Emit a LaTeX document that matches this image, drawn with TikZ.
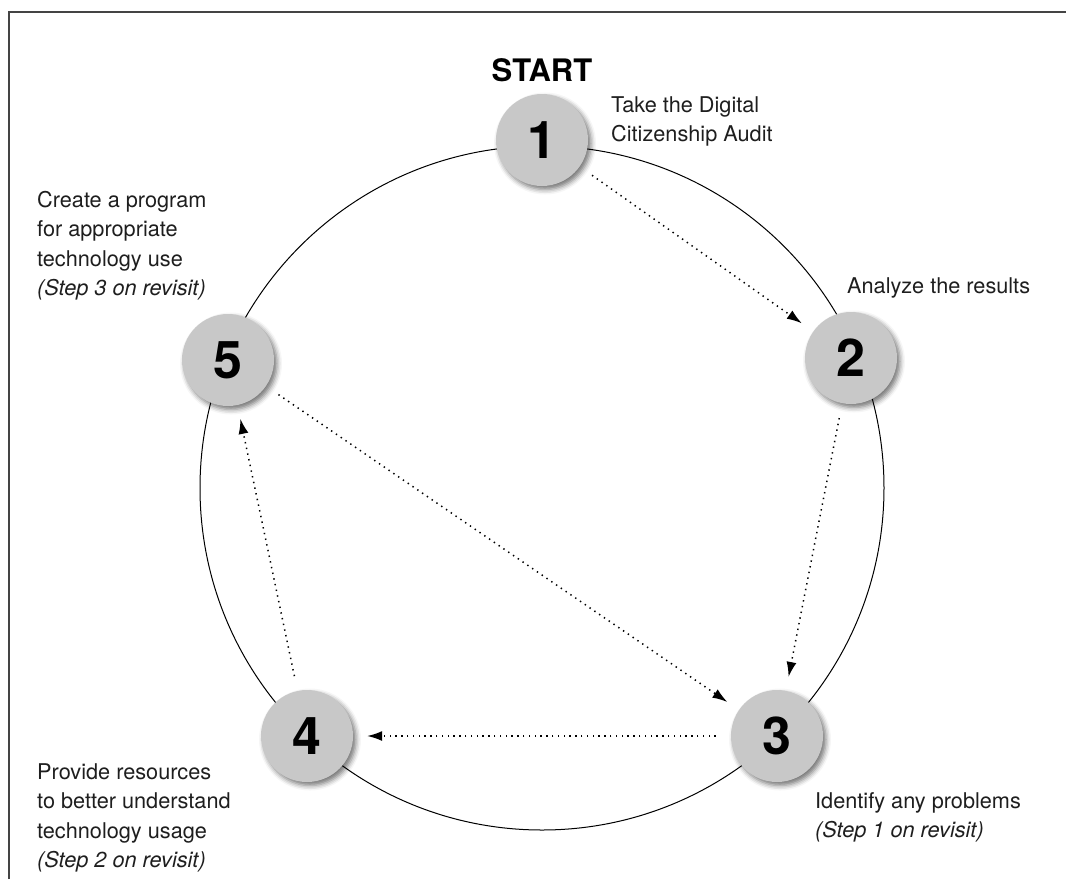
\documentclass[tikz,border=0pt]{standalone}
\usepackage{fontspec}
\setmainfont{TeX Gyre Heros}
\usetikzlibrary{arrows.meta,shadows.blur}
\definecolor{stepgray}{HTML}{C8C8C8}
\definecolor{textgray}{HTML}{1E1E1E}
\definecolor{framegray}{HTML}{444444}

\tikzset{
  stepnode/.style={circle, fill=stepgray, minimum size=92pt, inner sep=0pt,
    font=\fontsize{52}{52}\selectfont\bfseries,
    blur shadow={shadow xshift=3pt, shadow yshift=-3.5pt, shadow blur radius=5pt, shadow opacity=55}},
  steparrow/.style={line width=1.5pt, dash pattern=on 1.4pt off 4.4pt,
    -{Latex[length=15pt,width=10pt]}, shorten <=15pt, shorten >=14pt},
  steplabel/.style={text=textgray, align=left, anchor=north west, inner sep=0pt},
}

\begin{document}
\begin{tikzpicture}[x=1pt, y=-1pt, font=\fontsize{21.7}{29.5}\selectfont]
\useasboundingbox (0,0) rectangle (1066,879);
% frame, only its top and left edges are in the picture
\draw[line width=2pt, framegray] (9,879) -- (9,12) -- (1066,12);
% cycle
\draw[line width=1pt] (542,488) circle[radius=342pt];
\node[font=\fontsize{31}{31}\selectfont\bfseries] (start) at (542,70) {START};
% steps
\node[stepnode] (step1) at (542,140) {1};
\node[stepnode] (step2) at (851,358) {2};
\node[stepnode] (step3) at (777,736) {3};
\node[stepnode] (step4) at (307,736) {4};
\node[stepnode] (step5) at (228,360) {5};
% what each step does
\node[steplabel] (lab1) at (611,96) {Take the Digital\\Citizenship Audit};
\node[steplabel] (lab2) at (847,277) {Analyze the results};
\node[steplabel] (lab3) at (815,792) {Identify any problems\\\textit{(Step 1 on revisit)}};
\node[steplabel] (lab4) at (37,763) {Provide resources\\to better understand\\technology usage\\\textit{(Step 2 on revisit)}};
\node[steplabel] (lab5) at (37,191) {Create a program\\for appropriate\\technology use\\\textit{(Step 3 on revisit)}};
% order of the steps
\draw[steparrow] (step1) -- (step2);
\draw[steparrow] (step2) -- (step3);
\draw[steparrow] (step3) -- (step4);
\draw[steparrow] (step4) -- (step5);
\draw[steparrow] (step5) -- (step3);
\end{tikzpicture}
\end{document}
